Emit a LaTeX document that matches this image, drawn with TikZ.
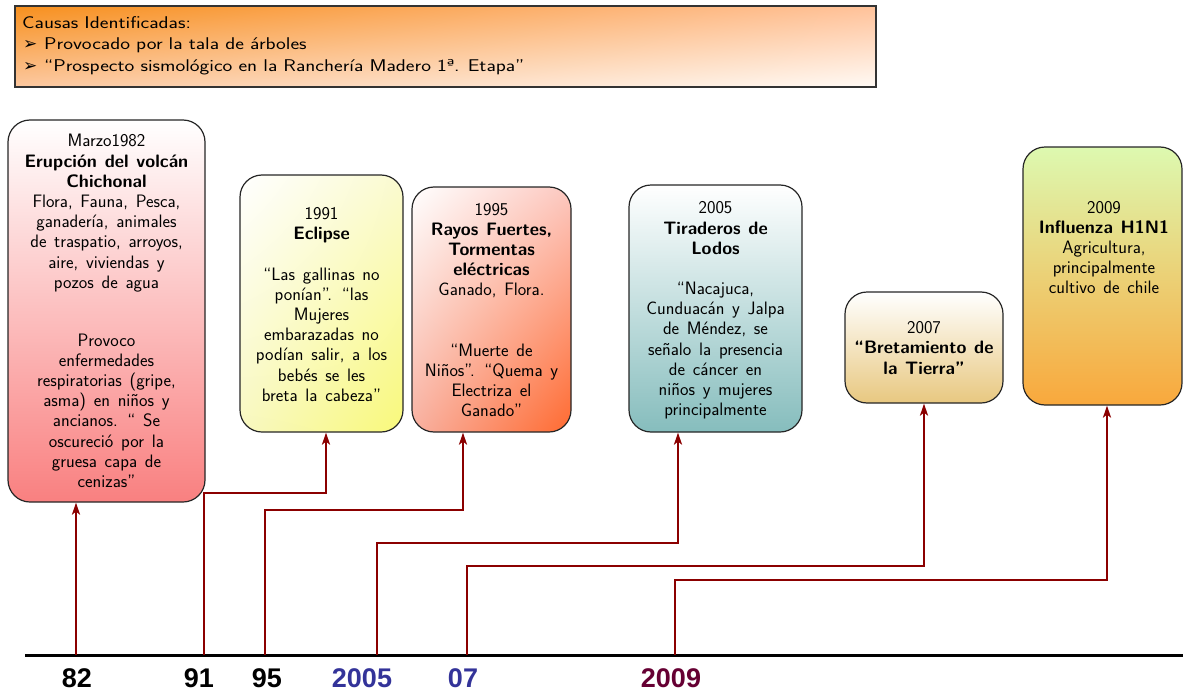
\documentclass[tikz,border=0pt]{standalone}
\usepackage{fontspec}
\newfontfamily\symfont{DejaVu Sans}
\newfontfamily\labfont{Liberation Sans}
\newfontfamily\widesans{Latin Modern Sans}[FakeStretch=1.22]
\usetikzlibrary{arrows.meta,shadings}
\definecolor{arrred}{RGB}{139,0,0}
\definecolor{labblue}{RGB}{51,51,153}
\definecolor{labmaroon}{RGB}{102,0,51}
\definecolor{oraA}{RGB}{247,144,30}
\definecolor{oraB}{RGB}{252,200,160}
\definecolor{oraC}{RGB}{255,194,154}
\definecolor{oraD}{RGB}{255,250,245}
\definecolor{pinkA}{RGB}{252,216,216}
\definecolor{pinkB}{RGB}{249,128,128}
\definecolor{yelA}{RGB}{250,250,208}
\definecolor{yelB}{RGB}{248,248,192}
\definecolor{yelC}{RGB}{249,249,122}
\definecolor{redA}{RGB}{252,200,192}
\definecolor{redB}{RGB}{248,176,160}
\definecolor{redC}{RGB}{255,106,48}
\definecolor{tealA}{RGB}{224,237,237}
\definecolor{tealB}{RGB}{134,189,189}
\definecolor{tanB}{RGB}{232,200,128}
\definecolor{grnA}{RGB}{221,249,176}
\definecolor{grnB}{RGB}{249,168,60}
\begin{document}
\begin{tikzpicture}[x=1pt,y=-1pt,
  evbox/.style={draw=black!85, line width=1.2pt, rounded corners=22pt, inner sep=0pt},
  evtxt/.style={font={\sffamily\fontsize{18}{20.2}\selectfont\spaceskip=0.43em plus 0.1em\relax}, align=center, inner sep=0pt},
  toptxt/.style={font={\widesans\fontsize{17}{21}\selectfont\spaceskip=0.36em\relax}, anchor=base west, inner sep=0pt},
  conn/.style={draw=arrred, line width=2.2pt, -{Stealth[length=12pt,width=8pt,inset=3pt]}},
  yearlab/.style={font=\labfont\bfseries\fontsize{27}{30}\selectfont, anchor=base, inner sep=0pt}]
\useasboundingbox (0,0) rectangle (1183,693);

% causes box
\node[draw=black!80, line width=1.3pt, inner sep=0pt, minimum width=861pt, minimum height=81pt,
  upper left=oraA, lower left=oraB, upper right=oraC, lower right=oraD] (causes) at (445.5,46.5) {};
\node[toptxt] (c1) at (22,29) {Causas Identificadas:};
\node[toptxt] (c2) at (23,50) {\makebox[21pt][l]{\symfont\fontsize{17}{17}\selectfont ➢}Provocado por la tala de árboles};
\node[toptxt] (c3) at (23,71) {\makebox[21pt][l]{\symfont\fontsize{17}{17}\selectfont ➢}“Prospecto sismológico en la Ranchería Madero 1ª. Etapa”};

% event boxes
\node[evbox, top color=white, middle color=pinkA, bottom color=pinkB,
  minimum width=197pt, minimum height=382pt] (b1) at (106.5,311) {};
\node[evbox, upper left=white, upper right=yelA, lower left=yelB, lower right=yelC,
  minimum width=163pt, minimum height=257pt] (b2) at (321.5,303.5) {};
\node[evbox, upper left=white, upper right=redA, lower left=redB, lower right=redC,
  minimum width=159pt, minimum height=245pt] (b3) at (491.5,309.5) {};
\node[evbox, top color=white, middle color=tealA, bottom color=tealB,
  minimum width=173pt, minimum height=247pt] (b4) at (715.5,308.5) {};
\node[evbox, top color=white, bottom color=tanB,
  minimum width=158pt, minimum height=111pt] (b5) at (924,347.5) {};
\node[evbox, top color=grnA, bottom color=grnB,
  minimum width=159pt, minimum height=258pt] (b6) at (1102.5,276) {};

% texts
\node[evtxt] (t1) at (106.5,311) {Marzo1982\\\textbf{Erupción del volcán}\\\textbf{Chichonal}\\Flora, Fauna, Pesca,\\ganadería, animales\\de traspatio, arroyos,\\aire, viviendas y\\pozos de agua\\[37.7pt]Provoco\\enfermedades\\respiratorias (gripe,\\asma) en niños y\\ancianos. “ Se\\oscureció por la\\gruesa capa de\\cenizas”};
\node[evtxt] (t2) at (321.5,304.5) {1991\\\textbf{Eclipse}\\[20.2pt]“Las gallinas no\\ponían”. “las\\Mujeres\\embarazadas no\\podían salir, a los\\bebés se les\\breta la cabeza”};
\node[evtxt] (t3) at (491.5,310) {1995\\\textbf{Rayos Fuertes,}\\\textbf{Tormentas}\\\textbf{eléctricas}\\Ganado, Flora.\\[40pt]“Muerte de\\Niños”. “Quema y\\Electriza el\\Ganado”};
\node[evtxt] (t4) at (715.5,310.5) {2005\\\textbf{Tiraderos de}\\\textbf{Lodos}\\[20pt]“Nacajuca,\\Cunduacán y Jalpa\\de Méndez, se\\señalo la presencia\\de cáncer en\\niños y mujeres\\principalmente};
\node[evtxt] (t5) at (924,348) {2007\\\textbf{“Bretamiento de}\\\textbf{la Tierra”}};
\node[evtxt] (t6) at (1104,247.5) {2009\\\textbf{Influenza H1N1}\\Agricultura,\\principalmente\\cultivo de chile};

% axis
\coordinate (axL) at (25,655);
\coordinate (axR) at (1183,655);
\draw[line width=3pt, black] (axL) -- (axR);

\coordinate (p82) at (76,655);
\coordinate (p91) at (204,655);
\coordinate (p95) at (265,655);
\coordinate (p05) at (377,655);
\coordinate (p07) at (467,655);
\coordinate (p09) at (675,655);

\draw[conn] (p82) -- (p82 |- b1.south);
\draw[conn] (p91) -- ++(0,-162) -| ([xshift=4.5pt]b2.south);
\draw[conn] (p95) -- ++(0,-145) -| ([xshift=-28.5pt]b3.south);
\draw[conn] (p05) -- ++(0,-112) -| ([xshift=-37.5pt]b4.south);
\draw[conn] (p07) -- ++(0,-89) -| (b5.south);
\draw[conn] (p09) -- ++(0,-75) -| ([xshift=4.5pt]b6.south);

% year labels
\node[yearlab, text=black] (l82) at (77,687) {82};
\node[yearlab, text=black] (l91) at (199,687) {91};
\node[yearlab, text=black] (l95) at (267,687) {95};
\node[yearlab, text=labblue] (l05) at (362,687) {2005};
\node[yearlab, text=labblue] (l07) at (463,687) {07};
\node[yearlab, text=labmaroon] (l09) at (671,687) {2009};
\end{tikzpicture}
\end{document}
